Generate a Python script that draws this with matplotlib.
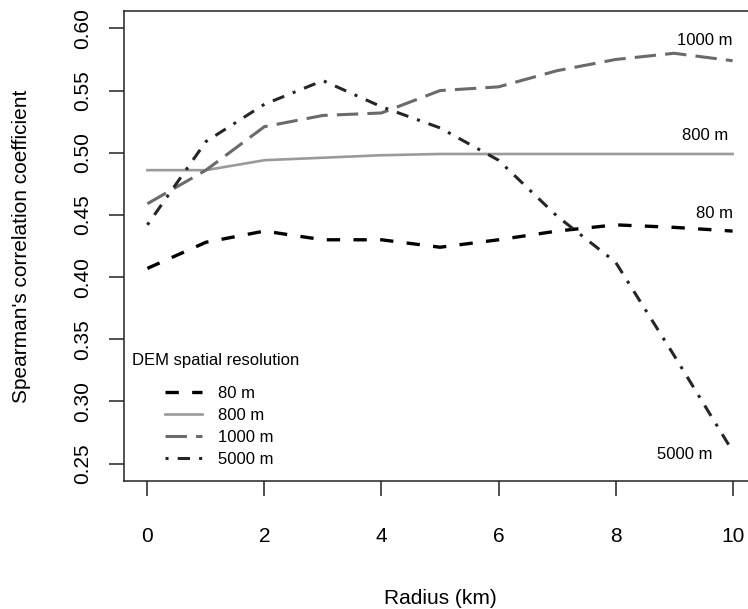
import numpy as np
import matplotlib
matplotlib.use("Agg")
import matplotlib.pyplot as plt

# Spearman's correlation vs radius, per DEM resolution
radius = [0, 1, 2, 3, 4, 5, 6, 7, 8, 9, 10]   # [km]
dem80 = [0.407, 0.428, 0.437, 0.430, 0.430, 0.424, 0.430, 0.437, 0.442, 0.440, 0.437]
dem800 = [0.486, 0.486, 0.494, 0.496, 0.498, 0.499, 0.499, 0.499, 0.499, 0.499, 0.499]
dem1000 = [0.459, 0.486, 0.521, 0.530, 0.532, 0.550, 0.553, 0.566, 0.575, 0.580, 0.574]
dem5000 = [0.442, 0.509, 0.539, 0.558, 0.537, 0.520, 0.494, 0.449, 0.412, 0.337, 0.260]

labels = ["80 m", "800 m", "1000 m", "5000 m"]
xticks = [0, 2, 4, 6, 8, 10]
yticks = [0.25, 0.30, 0.35, 0.40, 0.45, 0.50, 0.55, 0.60]

plt.rcParams['font.family'] = ['Liberation Sans', 'DejaVu Sans']

fig = plt.figure(figsize=(7.48, 6.09), dpi=100)
ax = fig.add_axes([124/748, 1 - 481/609, (756 - 124)/748, (481 - 11)/609])

l1, = ax.plot(radius, dem80, color='black', lw=2.4, ls=(0, (4, 4)))
l2, = ax.plot(radius, dem800, color='#9a9a9a', lw=1.9)
l3, = ax.plot(radius, dem1000, color='#6a6a6a', lw=2.2, ls=(0, (7, 3)))
l4, = ax.plot(radius, dem5000, color='#262626', lw=2.2, ls=(0, (1, 3, 4, 3)))

# labels at the end of each line
ax.text(10, 0.590, "1000 m", ha='right', va='center', fontsize=12)
ax.text(9.93, 0.514, "800 m", ha='right', va='center', fontsize=12)
ax.text(10, 0.4515, "80 m", ha='right', va='center', fontsize=12)
ax.text(9.66, 0.257, "5000 m", ha='right', va='center', fontsize=12)

ax.set_xlim(-0.4, 10.4)
ax.set_ylim(0.236, 0.614)
ax.set_xticks(xticks)
ax.set_xticklabels([str(t) for t in xticks])
ax.set_yticks(yticks)
ax.set_yticklabels(["%.2f" % t for t in yticks], rotation=90, va='center')
ax.tick_params(axis='both', labelsize=15, length=11, width=1.1, color='#222222')
ax.tick_params(axis='x', pad=22)
ax.tick_params(axis='y', pad=12)
for s in ax.spines.values():
    s.set_linewidth(1.1)
    s.set_color('#222222')

ax.set_xlabel("Radius (km)", fontsize=15, labelpad=31)
ax.set_ylabel("Spearman's correlation coefficient", fontsize=15, labelpad=30)

ax.text(0.0122, 0.256, "DEM spatial resolution", transform=ax.transAxes,
        ha='left', va='center', fontsize=12)
ax.legend([l1, l2, l3, l4], labels, loc='upper left',
          bbox_to_anchor=(0.0649, 0.203), frameon=False, fontsize=12,
          handlelength=2.2, handletextpad=1.0, labelspacing=0.42,
          borderpad=0, borderaxespad=0)

plt.savefig("out.png", dpi=100)
